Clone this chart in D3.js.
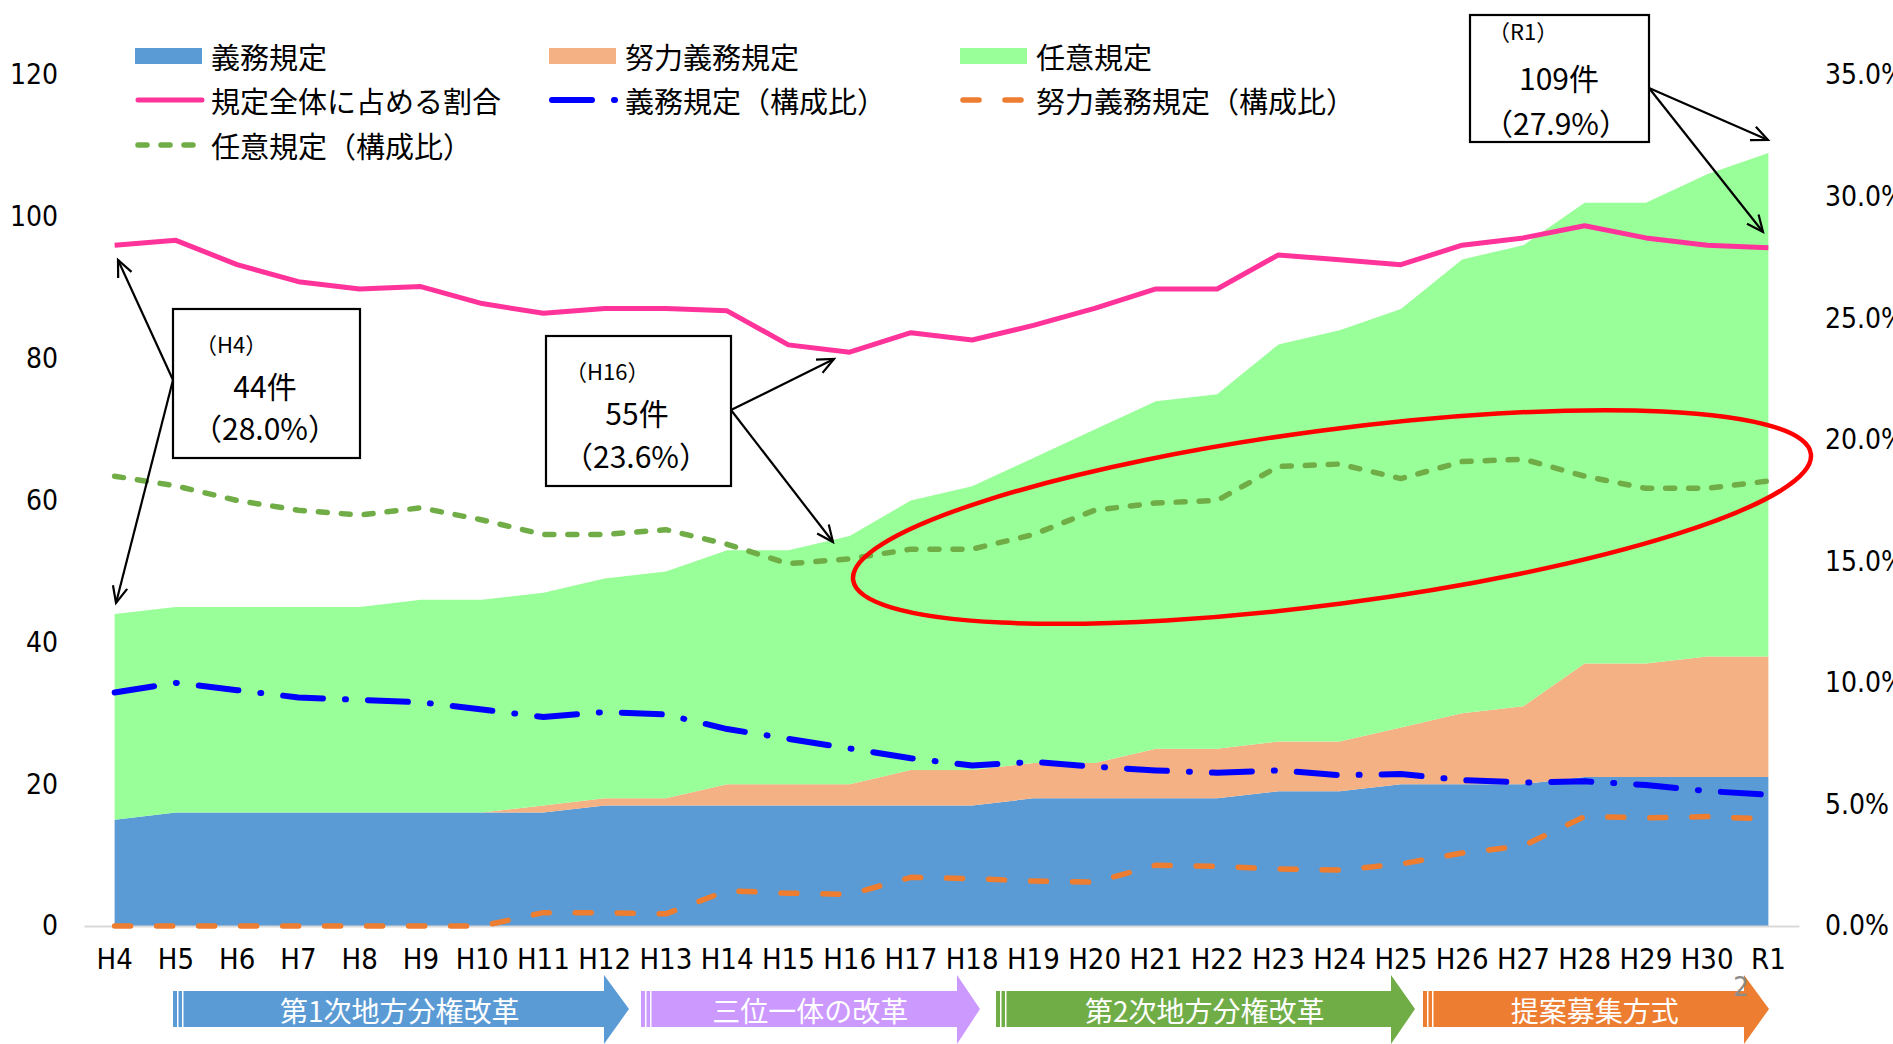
<!DOCTYPE html>
<html>
<head>
<meta charset="utf-8">
<script src="https://cdn.jsdelivr.net/npm/d3@7"></script>
<style>
  body { margin: 0; background: #fff; }
  svg { display: block; }
  .num { font-family: "Liberation Sans Narrow", "Arial Narrow", "DejaVu Sans Condensed", sans-serif; }
  .jp { font-family: "Noto Sans CJK JP", sans-serif; }
</style>
</head>
<body>
<div id="container"></div>
<script>
/* CONSTANTS AND GLOBALS */
const width = 1893,
  height = 1044,
  margin = { top: 75, bottom: 118, left: 84, right: 94 };

/* DATA */
const years = ["H4","H5","H6","H7","H8","H9","H10","H11","H12","H13","H14","H15","H16","H17",
  "H18","H19","H20","H21","H22","H23","H24","H25","H26","H27","H28","H29","H30","R1"];
// counts (left axis)
const mandatory = [15,16,16,16,16,16,16,16,17,17,17,17,17,17,17,18,18,18,18,19,19,20,20,20,21,21,21,21];
const effort    = [0,0,0,0,0,0,0,1,1,1,3,3,3,5,5,5,5,7,7,7,7,8,10,11,16,16,17,17];
const voluntary = [29,29,29,29,29,30,30,30,31,32,33,33,35,38,40,43,47,49,50,56,58,59,64,65,65,65,68,71];
// shares in % (right axis)
const shareTotal     = [28.0,28.2,27.2,26.5,26.2,26.3,25.6,25.2,25.4,25.4,25.3,23.9,23.6,24.4,24.1,24.7,25.4,26.2,26.2,27.6,27.4,27.2,28.0,28.3,28.8,28.3,28.0,27.9];
const shareMandatory = [9.6,10.0,9.7,9.4,9.3,9.2,8.9,8.6,8.8,8.7,8.1,7.7,7.3,6.9,6.6,6.75,6.55,6.4,6.3,6.4,6.2,6.25,6.0,5.9,5.95,5.8,5.55,5.4];
const shareEffort    = [0,0,0,0,0,0,0,0.55,0.55,0.5,1.45,1.35,1.3,2.0,1.95,1.85,1.8,2.5,2.45,2.35,2.3,2.55,3.0,3.3,4.5,4.45,4.5,4.4];
const shareVoluntary = [18.5,18.1,17.5,17.1,16.9,17.2,16.7,16.1,16.1,16.3,15.7,14.9,15.1,15.5,15.5,16.1,17.1,17.4,17.5,18.9,19.0,18.4,19.1,19.2,18.5,18.0,18.0,18.3];

const leftTicks = [0,20,40,60,80,100,120];
const rightTicks = [0,5,10,15,20,25,30,35];

const areaKeys = ["義務規定","努力義務規定","任意規定"];
const eras = ["第1次地方分権改革","三位一体の改革","第2次地方分権改革","提案募集方式"];

/* STYLES AND LAYOUT */
const areaColors = ["#5B9BD5","#F4B183","#99FF99"];
const lineSeries = [
  { label: "規定全体に占める割合", values: shareTotal, color: "#FF3399", dash: null, w: 5 },
  { label: "義務規定（構成比）", values: shareMandatory, color: "#0000FF", dash: "40,22,1,22", w: 6 },
  { label: "努力義務規定（構成比）", values: shareEffort, color: "#ED7D31", dash: "16,26", w: 5.5 },
  { label: "任意規定（構成比）", values: shareVoluntary, color: "#70AD47", dash: "9,14", w: 5.5 }
];
const eraColors = ["#5B9BD5","#CC99FF","#70AD47","#ED7D31"];
const eraLayout = [[173,604,629],[641,957,980],[996,1391,1415],[1423,1744,1769]]; // start, body end, tip

let x, yL, yR;

init();

function init() {
  x = d3.scaleBand()
    .domain(years)
    .range([margin.left, width - margin.right])
    .padding(0);
  yL = d3.scaleLinear().domain([0, 120]).range([height - margin.bottom, margin.top]);
  yR = d3.scaleLinear().domain([0, 35]).range([height - margin.bottom, margin.top]);
  draw();
}

function cx(d) { return x(d) + x.bandwidth() / 2; }

function arrow(g, p1, p2) {
  g.append("line")
    .attr("x1", p1[0]).attr("y1", p1[1]).attr("x2", p2[0]).attr("y2", p2[1])
    .attr("stroke", "#000").attr("stroke-width", 2.2);
  const ang = Math.atan2(p2[1] - p1[1], p2[0] - p1[0]), L = 18, a = 0.42;
  g.append("path")
    .attr("d", `M${p2[0] - L * Math.cos(ang - a)},${p2[1] - L * Math.sin(ang - a)}L${p2[0]},${p2[1]}L${p2[0] - L * Math.cos(ang + a)},${p2[1] - L * Math.sin(ang + a)}`)
    .attr("fill", "none").attr("stroke", "#000").attr("stroke-width", 2.2);
}

function draw() {
  const svg = d3.select("#container")
    .append("svg")
    .attr("width", width)
    .attr("height", height)
    .style("background-color", "#fff");

  // stacked areas
  const table = years.map((y, i) => ({ year: y, "義務規定": mandatory[i], "努力義務規定": effort[i], "任意規定": voluntary[i] }));
  const stacked = d3.stack().keys(areaKeys)(table);
  const area = d3.area()
    .x(d => cx(d.data.year))
    .y0(d => yL(d[0]))
    .y1(d => yL(d[1]));
  svg.selectAll("path.area")
    .data(stacked)
    .join("path")
    .attr("class", "area")
    .attr("d", area)
    .attr("fill", (d, i) => areaColors[i]);

  // axes
  svg.append("g")
    .attr("transform", `translate(0,${height - margin.bottom})`)
    .call(d3.axisBottom(x).tickSize(0).tickSizeOuter(0).tickPadding(22))
    .call(g => g.select(".domain").attr("stroke", "#d9d9d9").attr("stroke-width", 2))
    .call(g => g.selectAll("text").attr("class", "num").style("font-size", "29px").attr("fill", "#000"));

  svg.append("g")
    .attr("transform", "translate(66,0)")
    .call(d3.axisLeft(yL).tickValues(leftTicks).tickSize(0).tickPadding(8))
    .call(g => g.select(".domain").remove())
    .call(g => g.selectAll("text").attr("class", "num").style("font-size", "28px").attr("fill", "#000"));

  svg.append("g")
    .attr("transform", "translate(1817,0)")
    .call(d3.axisRight(yR).tickValues(rightTicks).tickSize(0).tickPadding(8).tickFormat(d => d.toFixed(1) + "%"))
    .call(g => g.select(".domain").remove())
    .call(g => g.selectAll("text").attr("class", "num").style("font-size", "28px").attr("fill", "#000"));

  // share lines
  const line = d3.line().x((d, i) => cx(years[i])).y(d => yR(d));
  svg.selectAll("path.share")
    .data(lineSeries)
    .join("path")
    .attr("class", "share")
    .attr("d", d => line(d.values))
    .attr("fill", "none")
    .attr("stroke", d => d.color)
    .attr("stroke-width", d => d.w)
    .attr("stroke-dasharray", d => d.dash)
    .attr("stroke-linecap", d => d.dash ? "round" : "butt")
    .attr("stroke-linejoin", "round");

  // legend
  const legend = [
    { label: areaKeys[0], kind: "rect", color: areaColors[0] },
    { label: areaKeys[1], kind: "rect", color: areaColors[1] },
    { label: areaKeys[2], kind: "rect", color: areaColors[2] },
    ...lineSeries.map(s => ({ label: s.label, kind: "line", color: s.color, dash: s.dash, w: s.w }))
  ];
  const colX = [135, 549, 960], rowY = [56, 100, 145];
  legend.forEach((d, i) => {
    const lx = colX[i % 3], ly = rowY[Math.floor(i / 3)];
    if (d.kind === "rect") {
      svg.append("rect").attr("x", lx).attr("y", ly - 8).attr("width", 67).attr("height", 16).attr("fill", d.color);
    } else {
      svg.append("line").attr("x1", lx + 3).attr("x2", lx + 67).attr("y1", ly).attr("y2", ly)
        .attr("stroke", d.color).attr("stroke-width", d.w)
        .attr("stroke-dasharray", d.dash).attr("stroke-linecap", "round");
    }
    svg.append("text").attr("class", "jp").attr("x", lx + 76).attr("y", ly)
      .attr("dominant-baseline", "central").style("font-size", "29px").text(d.label);
  });

  // red ellipse
  svg.append("ellipse")
    .attr("cx", 1332).attr("cy", 517).attr("rx", 483).attr("ry", 87)
    .attr("transform", "rotate(-7.5 1332 517)")
    .attr("fill", "none").attr("stroke", "#FF0000").attr("stroke-width", 4.5);

  // callouts
  const callouts = [
    { box: [173, 309, 187, 149], from: [173, 380], to: [[118, 260], [116, 603]],
      head: ["（H4）", 195, 353], count: ["44件", 265, 398], pct: ["（28.0%）", 265, 440] },
    { box: [546, 336, 185, 150], from: [731, 410], to: [[834, 359], [833, 542]],
      head: ["（H16）", 565, 380], count: ["55件", 637, 425], pct: ["（23.6%）", 636, 468] },
    { box: [1470, 15, 179, 127], from: [1649, 88], to: [[1768, 140], [1763, 232]],
      head: ["（R1）", 1488, 40], count: ["109件", 1559, 90], pct: ["（27.9%）", 1556, 135] }
  ];
  callouts.forEach(c => {
    const g = svg.append("g");
    g.append("rect").attr("x", c.box[0]).attr("y", c.box[1]).attr("width", c.box[2]).attr("height", c.box[3])
      .attr("fill", "#fff").attr("stroke", "#000").attr("stroke-width", 2.2);
    g.append("text").attr("class", "jp").attr("x", c.head[1]).attr("y", c.head[2]).style("font-size", "22px").text(c.head[0]);
    g.append("text").attr("class", "jp").attr("x", c.count[1]).attr("y", c.count[2]).attr("text-anchor", "middle").style("font-size", "30px").text(c.count[0]);
    g.append("text").attr("class", "jp").attr("x", c.pct[1]).attr("y", c.pct[2]).attr("text-anchor", "middle").style("font-size", "30px").text(c.pct[0]);
    c.to.forEach(t => arrow(g, c.from, t));
  });

  // era arrows
  eras.forEach((name, i) => {
    const [s, e, tip] = eraLayout[i], col = eraColors[i];
    const g = svg.append("g");
    g.append("rect").attr("x", s).attr("y", 991).attr("width", 4).attr("height", 36).attr("fill", col);
    g.append("rect").attr("x", s + 5.5).attr("y", 991).attr("width", 3.5).attr("height", 36).attr("fill", col);
    g.append("path")
      .attr("d", `M${s + 10.5},991H${e}V975L${tip},1009L${e},1044V1027H${s + 10.5}Z`)
      .attr("fill", col);
    g.append("text").attr("class", "jp").attr("x", (s + 10.5 + e) / 2 + 6).attr("y", 1010)
      .attr("text-anchor", "middle").attr("dominant-baseline", "central")
      .attr("fill", "#fff").style("font-size", "28px").text(name);
  });

  // page number
  svg.append("text").attr("class", "num").attr("x", 1741).attr("y", 996)
    .attr("text-anchor", "middle").attr("fill", "#8c8c8c").style("font-size", "27px").text("2");
}
</script>
</body>
</html>
